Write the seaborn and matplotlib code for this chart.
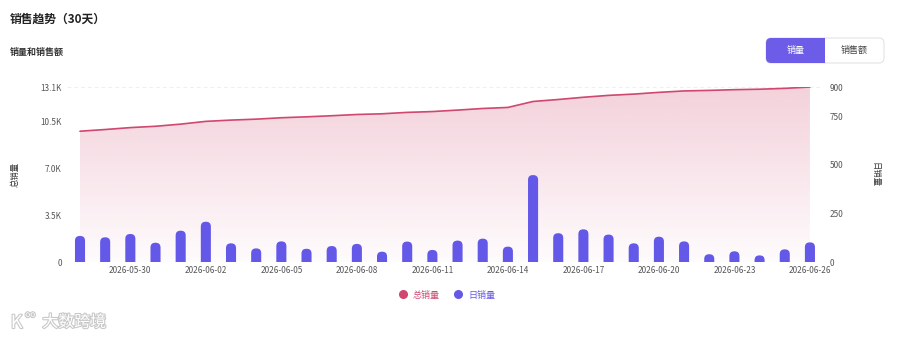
import numpy as np
import pandas as pd
import matplotlib
matplotlib.use("Agg")
import matplotlib.pyplot as plt
import seaborn as sns
from matplotlib.patches import FancyBboxPatch, Rectangle
from matplotlib.lines import Line2D
import matplotlib.patheffects as pe

# Data
dates = pd.date_range("2026-05-28", "2026-06-26").strftime("%Y-%m-%d").tolist()
daily_sales = [134, 127, 144, 99, 161, 207, 96, 70, 106, 68, 82, 93, 53, 105, 62,
               110, 120, 79, 447, 148, 168, 141, 96, 130, 106, 40, 55, 34, 65, 101]
total_sales = [9800, 9927, 10071, 10170, 10331, 10538, 10634, 10704, 10810, 10878,
               10960, 11053, 11106, 11211, 11273, 11383, 11503, 11582, 12029, 12177,
               12345, 12486, 12582, 12712, 12818, 12858, 12913, 12947, 13012, 13113]
left_ticks = [0, 3500, 7000, 10500, 13113]
left_tick_labels = ["0", "3.5K", "7.0K", "10.5K", "13.1K"]
right_ticks = [0, 250, 500, 750, 900]
xtick_pos = list(range(2, 30, 3))

line_color = "#d0476f"
bar_color = "#6458e8"
btn_color = "#6c5ce7"
tick_color = "#555555"

sns.set_theme(style="white")
plt.rcParams['font.family'] = ['Noto Sans CJK SC', 'DejaVu Sans']

df = pd.DataFrame({"date": dates, "daily": daily_sales, "total": total_sales})
df["idx"] = range(len(df))

fig = plt.figure(figsize=(9, 3.4), dpi=100)
ax = fig.add_axes([0.0749, 0.2294, 0.839, 0.5147])
ax2 = ax.twinx()

# cumulative line + gradient area
sns.lineplot(data=df, x="idx", y="total", ax=ax, color=line_color, linewidth=1.2, zorder=3)
poly = ax.fill_between(df["idx"], df["total"], 0, facecolor="none", edgecolor="none")
rgba = np.zeros((256, 1, 4))
rgba[..., :3] = matplotlib.colors.to_rgb(line_color)
rgba[..., 3] = np.linspace(0.02, 0.25, 256)[:, None]
im = ax.imshow(rgba, origin="lower", aspect="auto",
               extent=[0, len(df) - 1, 0, max(total_sales)], zorder=1)
im.set_clip_path(poly.get_paths()[0], transform=ax.transData)
ax.axhline(left_ticks[-1], color="#efefef", lw=0.7, ls=(0, (4, 3)), zorder=0)

ax.set_xlim(-0.5, len(df) - 0.5)
ax.set_ylim(0, left_ticks[-1])
ax.set_yticks(left_ticks)
ax.set_yticklabels(left_tick_labels)

# daily bars on the right axis
sns.barplot(data=df, x="idx", y="daily", ax=ax2, color=bar_color, width=0.4,
            saturation=1, native_scale=True)
ax2.set_xlim(-0.5, len(df) - 0.5)
ax2.set_ylim(0, right_ticks[-1])
ax2.set_yticks(right_ticks)

# rounded bar tops
ax_w = 0.839 * 900
ax_h = 0.5147 * 340
aspect = (ax_w / len(df)) / (ax_h / right_ticks[-1])
for p in list(ax2.patches):
    x, w, h = p.get_x(), p.get_width(), p.get_height()
    p.remove()
    r = w / 2 * 0.95
    ax2.add_patch(FancyBboxPatch((x, -r * aspect), w, h + r * aspect,
                                 boxstyle=f"round,pad=0,rounding_size={r}",
                                 mutation_aspect=aspect, facecolor=bar_color,
                                 edgecolor="none", zorder=2))

ax.set_xticks(xtick_pos)
ax.set_xticklabels([dates[i] for i in xtick_pos])
for a in (ax, ax2):
    for s in a.spines.values():
        s.set_visible(False)
    a.tick_params(length=0, labelsize=5.9, labelcolor=tick_color)
    a.grid(False)
ax.tick_params(axis="y", pad=4)
ax2.tick_params(axis="y", pad=5)
ax.tick_params(axis="x", pad=3)
ax.set_xlabel("")
ax.set_ylabel("总销量", fontsize=6, color="#333333", labelpad=15)
ax2.set_xlabel("")
ax2.set_ylabel("日销量", fontsize=6, color="#333333", rotation=-90, labelpad=26)

# legend
handles = [Line2D([0], [0], marker="o", ls="", markersize=5.5, markerfacecolor=c,
                  markeredgecolor=c) for c in (line_color, bar_color)]
fig.legend(handles, ["总销量", "日销量"], loc="center", bbox_to_anchor=(0.494, 0.132),
           ncol=2, frameon=False, fontsize=6.5, handletextpad=0.1, columnspacing=1.0,
           labelcolor=[line_color, bar_color])

# titles
fig.text(0.011, 0.945, "销售趋势（30天）", fontsize=8.5, fontweight="bold",
         color="#222222", va="center")
fig.text(0.011, 0.847, "销量和销售额", fontsize=6.5, fontweight="bold",
         color="#333333", va="center")

# toggle buttons
fig.patches.append(FancyBboxPatch((7.66, 2.77), 1.18, 0.25, boxstyle="round,pad=0,rounding_size=0.05",
                                  facecolor="white", edgecolor="#e4e4e4", lw=0.8,
                                  transform=fig.dpi_scale_trans, figure=fig))
fig.patches.append(FancyBboxPatch((7.66, 2.77), 0.59, 0.25, boxstyle="round,pad=0,rounding_size=0.05",
                                  facecolor=btn_color, edgecolor="none",
                                  transform=fig.dpi_scale_trans, figure=fig))
fig.patches.append(Rectangle((7.95, 2.77), 0.30, 0.25, facecolor=btn_color, edgecolor="none",
                             transform=fig.dpi_scale_trans, figure=fig))
fig.text(7.955 / 9, 2.895 / 3.4, "销量", fontsize=6.5, color="white", ha="center", va="center")
fig.text(8.545 / 9, 2.895 / 3.4, "销售额", fontsize=6.5, color="#444444", ha="center", va="center")

# watermark
stroke = [pe.withStroke(linewidth=1.6, foreground="#c9c9c9")]
fig.text(0.012, 0.05, "K", fontsize=13, color="white", va="center", path_effects=stroke)
fig.text(0.028, 0.075, "oo", fontsize=6, color="white", va="center", path_effects=stroke)
fig.text(0.047, 0.052, "大数跨境", fontsize=11.5, color="white", va="center", path_effects=stroke)

fig.savefig("out.png", dpi=100)
